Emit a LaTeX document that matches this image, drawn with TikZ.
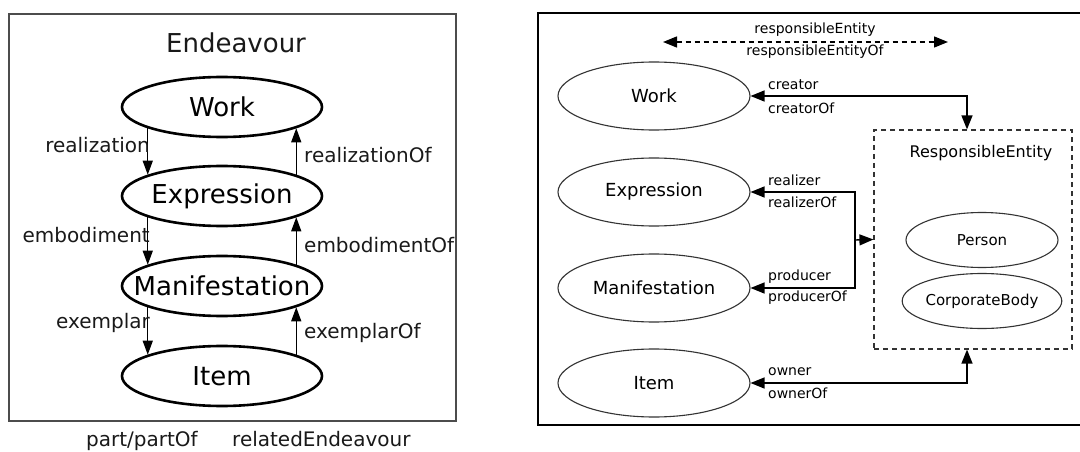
\documentclass[tikz,border=0pt]{standalone}
\usepackage{fontspec}
\setmainfont{DejaVu Sans}
\usetikzlibrary{arrows.meta,shapes.geometric,calc}

\begin{document}
\begin{tikzpicture}[x=1pt,y=-1pt,
  big/.style={draw,line width=2.6pt,ellipse,minimum width=200pt,minimum height=60pt,inner sep=0pt,font=\fontsize{26}{30}\selectfont},
  lbl/.style={inner sep=0pt,font=\fontsize{20}{24}\selectfont,text=black!90},
  rel/.style={-{Triangle[length=14pt,width=10pt]},line width=1.3pt},
  ent/.style={draw=black!80,line width=1.1pt,ellipse,minimum width=192pt,minimum height=68pt,inner sep=0pt,font=\fontsize{18}{22}\selectfont},
  sub/.style={draw=black!80,line width=1.1pt,ellipse,minimum width=152pt,minimum height=55pt,inner sep=0pt,font=\fontsize{15}{18}\selectfont},
  small/.style={inner sep=0pt,font=\fontsize{14}{17}\selectfont},
  link/.style={line width=1.4pt,{Triangle[length=14pt,width=11pt]}-{Triangle[length=14pt,width=11pt]}},
  one/.style={line width=1.4pt,-{Triangle[length=14pt,width=11pt]}},
]
\useasboundingbox (0,0) rectangle (1080,452);

% ---------- Endeavour group ----------
\draw[black!70,line width=1.5pt] (9,14) rectangle (456,421);
\node[lbl,font=\fontsize{26}{30}\selectfont,anchor=base] (title) at (236,53) {Endeavour};

\node[big] (W) at (222,107) {Work};
\node[big] (E) at (222,196) {Expression};
\node[big] (M) at (222,286) {\makebox[0pt]{Manifestation}};
\node[big] (I) at (222,376) {Item};

\draw[rel] (W.-164.7) -- (E.164.7);
\draw[rel] (E.16.55) -- (W.-16.55);
\draw[rel] (E.-164.7) -- (M.164.7);
\draw[rel] (M.16.55) -- (E.-16.55);
\draw[rel] (M.-164.7) -- (I.164.7);
\draw[rel] (I.16.55) -- (M.-16.55);

\node[lbl,anchor=east] (l1) at (150,145) {realization};
\node[lbl,anchor=west] (l2) at (304,155) {realizationOf};
\node[lbl,anchor=east] (l3) at (150,235) {embodiment};
\node[lbl,anchor=west] (l4) at (304,245) {embodimentOf};
\node[lbl,anchor=east] (l5) at (150,323) {exemplar};
\node[lbl,anchor=west] (l6) at (304,333) {exemplarOf};

\node[lbl,anchor=base west] (p1) at (86,446) {part/partOf};
\node[lbl,anchor=base west] (p2) at (232,446) {relatedEndeavour};

% ---------- Responsible entities ----------
\draw[line width=1.8pt] (1085,13) -- (538,13) -- (538,425) -- (1085,425);

\node[ent] (RW) at (654,96) {Work};
\node[ent] (RX) at (654,192) {Expression};
\node[ent] (RM) at (654,288) {Manifestation};
\node[ent] (RI) at (654,383) {Item};

\node[draw=black!80,dashed,dash pattern=on 5pt off 4pt,line width=1.2pt,minimum width=198pt,minimum height=219pt,inner sep=0pt] (RE) at (973,239.5) {};
\node[small,font=\fontsize{16}{19}\selectfont] (REt) at (981,153) {ResponsibleEntity};
\node[sub] (P) at (982,240) {Person};
\node[sub] (C) at (982,301) {CorporateBody};

\coordinate (dL) at (663,42);
\coordinate (dR) at (948,42);
\draw[link,dashed,dash pattern=on 5pt off 4pt] (dL) -- (dR);
\node[small] (t1) at (815,30) {responsibleEntity};
\node[small] (t2) at (815,52) {responsibleEntityOf};

\draw[link] (RW.east) -| ($(RE.north)+(-6,0)$);
\coordinate (J) at (855,240);
\draw[link] (RX.east) -| (J) |- (RM.east);
\draw[one] (J) -- (RE.west);
\draw[link] (RI.east) -| ($(RE.south)+(-6,0)$);

\node[small,anchor=west] (c1) at (768,85) {creator};
\node[small,anchor=west] (c2) at (768,108) {creatorOf};
\node[small,anchor=west] (c3) at (768,180) {realizer};
\node[small,anchor=west] (c4) at (768,202) {realizerOf};
\node[small,anchor=west] (c5) at (768,277) {producer};
\node[small,anchor=west] (c6) at (768,298) {producerOf};
\node[small,anchor=west] (c7) at (768,372) {owner};
\node[small,anchor=west] (c8) at (768,393) {ownerOf};
\end{tikzpicture}
\end{document}
